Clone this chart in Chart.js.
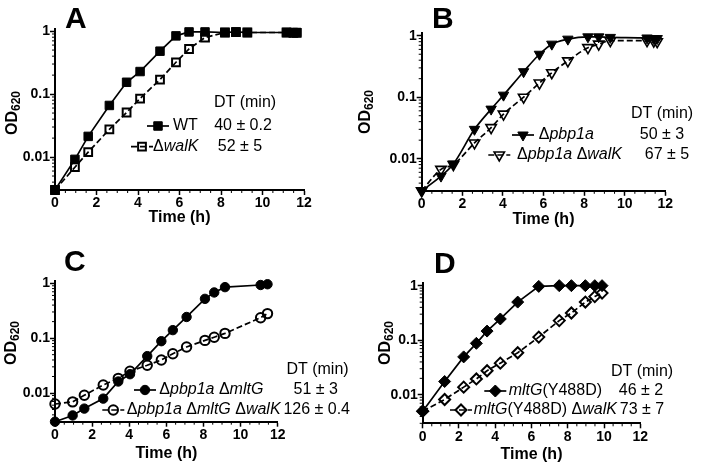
<!DOCTYPE html>
<html>
<head>
<meta charset="utf-8">
<script src="https://cdn.jsdelivr.net/npm/chart.js@4.4.1/dist/chart.umd.min.js"></script>
<style>
body { margin: 0; background: #fff; }
#wrap { position: relative; width: 704px; height: 471px; overflow: hidden; font-family: Arial, "Liberation Sans", sans-serif; color: #000; }
.panel { position: absolute; }
.letter { position: absolute; font-weight: bold; font-size: 30px; line-height: 30px; }
.ylab { position: absolute; font-weight: bold; font-size: 16px; line-height: 16px; white-space: nowrap; transform: translate(-50%, -50%) rotate(-90deg); }
.ylab sub { font-size: 12px; vertical-align: -3px; }
</style>
</head>
<body>
<div id="wrap">
  <div class="panel" style="left:0;top:0"><canvas id="chartA" width="352" height="235"></canvas></div>
  <div class="panel" style="left:352px;top:0"><canvas id="chartB" width="352" height="235"></canvas></div>
  <div class="panel" style="left:0;top:235px"><canvas id="chartC" width="352" height="236"></canvas></div>
  <div class="panel" style="left:352px;top:235px"><canvas id="chartD" width="352" height="236"></canvas></div>

  <div class="letter" style="left:65px;top:2.6px">A</div>
  <div class="letter" style="left:432px;top:2.6px">B</div>
  <div class="letter" style="left:64px;top:245.6px">C</div>
  <div class="letter" style="left:434px;top:248px">D</div>

  <div class="ylab" style="left:14px;top:113px">OD<sub>620</sub></div>
  <div class="ylab" style="left:367px;top:112px">OD<sub>620</sub></div>
  <div class="ylab" style="left:13px;top:343px">OD<sub>620</sub></div>
  <div class="ylab" style="left:387px;top:343px">OD<sub>620</sub></div>
</div>

<script>
var FONT = 'Arial, "Liberation Sans", sans-serif';

// axis tick labels
var xTickLabels = [0, 2, 4, 6, 8, 10, 12];
var yTickLabels = [1, 0.1, 0.01];

// panel A
var timeA = [0, 0.96, 1.6, 2.62, 3.45, 4.1, 5.06, 5.83, 6.46, 7.23, 8.19, 8.72, 9.27, 11.16, 11.49, 11.65];
var odWT = [0.003, 0.0092, 0.0213, 0.066, 0.154, 0.228, 0.48, 0.84, 0.97, 0.97, 0.95, 0.97, 0.95, 0.95, 0.95, 0.95];
var odWalK = [0.003, 0.0069, 0.012, 0.0275, 0.051, 0.085, 0.17, 0.32, 0.52, 0.79, 0.95, 0.96, 0.95, 0.95, 0.94, 0.94];

// panel B
var timeB = [0, 0.95, 1.56, 2.6, 3.42, 4.03, 5.02, 5.8, 6.41, 7.2, 8.19, 8.72, 9.29, 11.1, 11.43, 11.6];
var odPbp1a = [0.003, 0.0052, 0.0082, 0.03, 0.064, 0.108, 0.26, 0.5, 0.73, 0.88, 0.96, 0.96, 0.94, 0.92, 0.9, 0.9];
var odPbp1aWalK = [0.003, 0.0067, 0.008, 0.018, 0.032, 0.053, 0.1, 0.17, 0.25, 0.39, 0.64, 0.73, 0.83, 0.83, 0.82, 0.8];

// panel C
var timeC = [0, 0.95, 1.58, 2.6, 3.41, 4.04, 4.97, 5.73, 6.35, 7.09, 8.08, 8.58, 9.16, 11.08, 11.45];
var odPbpMltG = [0.003, 0.0039, 0.0052, 0.0079, 0.0162, 0.022, 0.047, 0.088, 0.14, 0.243, 0.52, 0.68, 0.85, 0.93, 0.96];
var odPbpMltGWalK = [0.0063, 0.0069, 0.0091, 0.014, 0.0185, 0.025, 0.032, 0.04, 0.052, 0.069, 0.091, 0.104, 0.122, 0.236, 0.28];

// panel D
var timeD = [0, 1.21, 2.26, 2.96, 3.55, 4.28, 5.24, 6.4, 7.53, 8.2, 8.97, 9.49, 9.89];
var odY488D = [0.005, 0.0175, 0.0495, 0.0877, 0.147, 0.245, 0.5, 0.97, 1.0, 1.0, 1.0, 1.0, 1.0];
var odY488DWalK = [0.005, 0.0082, 0.0138, 0.0195, 0.0276, 0.038, 0.059, 0.114, 0.229, 0.315, 0.5, 0.63, 0.73];

// doubling times shown in the legends
var dtA = ["40 \u00b1 0.2", "52 \u00b1 5"];
var dtB = ["50 \u00b1 3", "67 \u00b1 5"];
var dtC = ["51 \u00b1 3", "126 \u00b1 0.4"];
var dtD = ["46 \u00b1 2", "73 \u00b1 7"];

function pts(t, v) {
    return t.map(function (x, i) { return { x: x, y: v[i] }; });
}

function series(label, data, style, filled, dashed, radius, rotation) {
    return {
        label: label,
        data: data,
        borderColor: "#000",
        borderWidth: 1.7,
        borderDash: dashed ? [6, 3] : [],
        pointStyle: style,
        pointRadius: radius,
        pointRotation: rotation || 0,
        pointBackgroundColor: filled ? "#000" : "rgba(255,255,255,0)",
        pointBorderColor: "#000",
        pointBorderWidth: filled ? 1 : 2,
        fill: false,
        tension: 0,
        clip: false,
    };
}

function logTicks(min, max) {
    var out = [];
    [0.001, 0.01, 0.1, 1].forEach(function (p) {
        for (var k = 1; k <= 9; k++) {
            var v = parseFloat((k * p).toPrecision(2));
            if (v >= min && v <= max) out.push({ value: v });
        }
    });
    return out;
}

// short ticks between the labelled ones
var minorTicks = {
    id: "minorTicks",
    afterDraw: function (chart) {
        var ctx = chart.ctx;
        var xs = chart.scales.x;
        var ys = chart.scales.y;
        ctx.save();
        ctx.strokeStyle = "#000";
        ctx.lineWidth = 1;
        xs.ticks.forEach(function (t) {
            if (xTickLabels.indexOf(t.value) < 0) {
                var px = xs.getPixelForValue(t.value);
                ctx.beginPath();
                ctx.moveTo(px, xs.top);
                ctx.lineTo(px, xs.top + 3);
                ctx.stroke();
            }
        });
        ys.ticks.forEach(function (t) {
            if (yTickLabels.indexOf(t.value) < 0) {
                var py = ys.getPixelForValue(t.value);
                ctx.beginPath();
                ctx.moveTo(ys.right, py);
                ctx.lineTo(ys.right - 3, py);
                ctx.stroke();
            }
        });
        ctx.restore();
    },
};

// "DT (min)" legend drawn inside each panel
function dtLegend(spec) {
    return {
        id: "dtLegend",
        afterDraw: function (chart) {
            var ctx = chart.ctx;
            ctx.save();
            ctx.fillStyle = "#000";
            ctx.textBaseline = "middle";
            ctx.textAlign = "center";
            ctx.font = "16px " + FONT;
            ctx.fillText("DT (min)", spec.headX, spec.headY);
            spec.rows.forEach(function (row, i) {
                var ds = chart.data.datasets[i];
                ctx.strokeStyle = "#000";
                ctx.lineWidth = 1.7;
                ctx.setLineDash(ds.borderDash);
                ctx.beginPath();
                ctx.moveTo(row.sx - 11, row.y);
                ctx.lineTo(row.sx + 11, row.y);
                ctx.stroke();
                ctx.setLineDash([]);
                ctx.fillStyle = ds.pointBackgroundColor;
                ctx.lineWidth = ds.pointBorderWidth;
                Chart.helpers.drawPoint(ctx, {
                    pointStyle: ds.pointStyle,
                    radius: ds.pointRadius,
                    rotation: ds.pointRotation,
                    borderWidth: ds.pointBorderWidth,
                }, row.sx, row.y);
                ctx.fillStyle = "#000";
                ctx.textAlign = "left";
                var x = row.lx;
                row.label.forEach(function (seg) {
                    ctx.font = (seg[1] ? "italic " : "") + "16px " + FONT;
                    ctx.fillText(seg[0], x, row.y);
                    x += ctx.measureText(seg[0]).width;
                });
                ctx.font = "16px " + FONT;
                ctx.textAlign = "center";
                ctx.fillText(row.val, row.vx, row.y);
            });
            ctx.restore();
        },
    };
}

function makeChart(id, datasets, pad, titleH, legend) {
    var tickFont = { family: FONT, size: 14, weight: "bold" };
    return new Chart(document.getElementById(id), {
        type: "line",
        data: { datasets: datasets },
        options: {
            responsive: false,
            animation: false,
            layout: { padding: pad },
            plugins: {
                legend: { display: false },
                tooltip: { enabled: false },
            },
            scales: {
                x: {
                    type: "linear",
                    min: 0,
                    max: 12,
                    afterBuildTicks: function (s) {
                        var t = [];
                        for (var v = 0; v <= 12; v += 0.5) t.push({ value: v });
                        s.ticks = t;
                    },
                    afterFit: function (s) { s.height = titleH; },
                    ticks: {
                        autoSkip: false,
                        maxRotation: 0,
                        padding: 0,
                        color: "#000",
                        font: tickFont,
                        callback: function (v) {
                            return xTickLabels.indexOf(v) >= 0 ? String(v) : "";
                        },
                    },
                    grid: {
                        drawOnChartArea: false,
                        tickLength: 5,
                        tickWidth: 1.5,
                        tickColor: function (c) {
                            return c.tick && xTickLabels.indexOf(c.tick.value) < 0 ? "rgba(0,0,0,0)" : "#000";
                        },
                    },
                    border: { color: "#000", width: 2 },
                    title: {
                        display: true,
                        text: "Time (h)",
                        color: "#000",
                        padding: 0,
                        font: { family: FONT, size: 16, weight: "bold" },
                    },
                },
                y: {
                    type: "logarithmic",
                    min: 0.003,
                    max: 1.1,
                    afterBuildTicks: function (s) { s.ticks = logTicks(0.003, 1.1); },
                    afterFit: function (s) { s.width = 40; },
                    ticks: {
                        autoSkip: false,
                        padding: 0,
                        color: "#000",
                        font: tickFont,
                        callback: function (v) {
                            return yTickLabels.indexOf(v) >= 0 ? String(v) : "";
                        },
                    },
                    grid: {
                        drawOnChartArea: false,
                        tickLength: 5,
                        tickWidth: 1.5,
                        tickColor: function (c) {
                            return c.tick && yTickLabels.indexOf(c.tick.value) < 0 ? "rgba(0,0,0,0)" : "#000";
                        },
                    },
                    border: { color: "#000", width: 2 },
                },
            },
        },
        plugins: [minorTicks, dtLegend(legend)],
    });
}

makeChart("chartA", [
    series("WT", pts(timeA, odWT), "rect", true, false, 6),
    series("\u0394walK", pts(timeA, odWalK), "rect", false, true, 5.5),
], { left: 15, top: 28.5, right: 48, bottom: 7.4 }, 37.6, {
    headX: 245, headY: 103,
    rows: [
        { sx: 158, lx: 173, vx: 243, y: 126, label: [["WT", 0]], val: dtA[0] },
        { sx: 142, lx: 153, vx: 240, y: 146.7, label: [["\u0394", 0], ["walK", 1]], val: dtA[1] },
    ],
});

var dsB1 = series("\u0394pbp1a", pts(timeB, odPbp1a), "triangle", true, false, 6, 180);
var dsB2 = series("\u0394pbp1a \u0394walK", pts(timeB, odPbp1aWalK), "triangle", false, true, 6, 180);
dsB1.cubicInterpolationMode = "monotone";
dsB2.cubicInterpolationMode = "monotone";
dsB2.pointBorderWidth = 1.6;
makeChart("chartB", [dsB1, dsB2], { left: 29.7, top: 33.2, right: 38.7, bottom: 5.6 }, 38.6, {
    headX: 310, headY: 113.3,
    rows: [
        { sx: 171, lx: 186.7, vx: 310, y: 135, label: [["\u0394", 0], ["pbp1a", 1]], val: dtB[0] },
        { sx: 147.3, lx: 165, vx: 315, y: 155, label: [["\u0394", 0], ["pbp1a", 1], [" \u0394", 0], ["walK", 1]], val: dtB[1] },
    ],
});

makeChart("chartC", [
    series("\u0394pbp1a \u0394mltG", pts(timeC, odPbpMltG), "circle", true, false, 4.7),
    series("\u0394pbp1a \u0394mltG \u0394walK", pts(timeC, odPbpMltGWalK), "circle", false, true, 4.7),
], { left: 15, top: 46, right: 74.3, bottom: 7.4 }, 41.9, {
    headX: 317.5, headY: 135,
    rows: [
        { sx: 145, lx: 159.3, vx: 315.8, y: 155, label: [["\u0394", 0], ["pbp1a", 1], [" \u0394", 0], ["mltG", 1]], val: dtC[0] },
        { sx: 113.3, lx: 126.7, vx: 316.7, y: 175, label: [["\u0394", 0], ["pbp1a", 1], [" \u0394", 0], ["mltG", 1], [" \u0394", 0], ["walK", 1]], val: dtC[1] },
    ],
});

makeChart("chartD", [
    series("mltG(Y488D)", pts(timeD, odY488D), "rectRot", true, false, 6),
    series("mltG(Y488D) \u0394walK", pts(timeD, odY488DWalK), "rectRot", false, true, 5.5),
], { left: 30.7, top: 48.4, right: 63.7, bottom: 6.4 }, 41.3, {
    headX: 290, headY: 136.7,
    rows: [
        { sx: 143.3, lx: 156.7, vx: 289, y: 156, label: [["mltG", 1], ["(Y488D)", 0]], val: dtD[0] },
        { sx: 109, lx: 121.7, vx: 290, y: 175, label: [["mltG", 1], ["(Y488D) \u0394", 0], ["walK", 1]], val: dtD[1] },
    ],
});
</script>
</body>
</html>
